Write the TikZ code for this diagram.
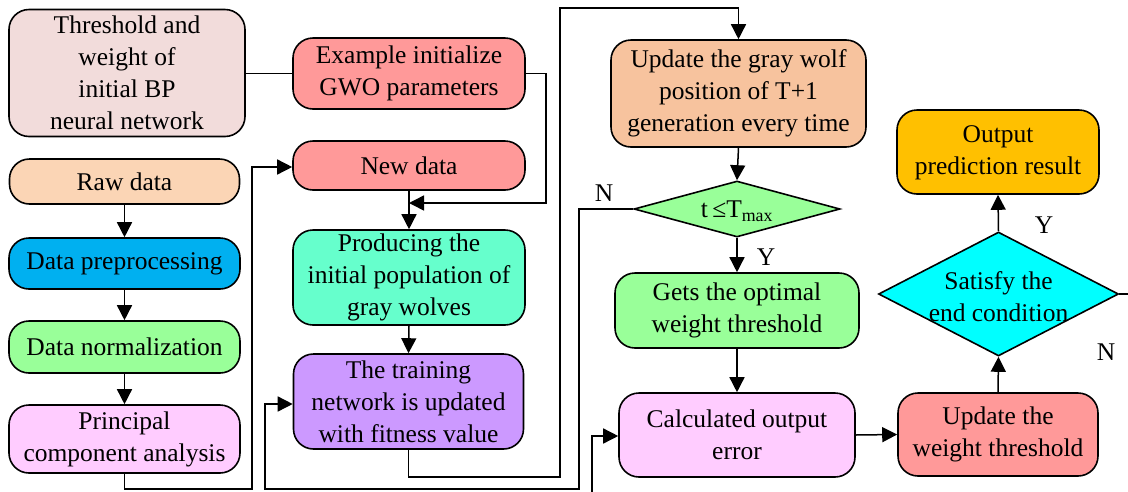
\documentclass[tikz,border=0pt]{standalone}
\usepackage{fontspec}
\setmainfont{Liberation Serif}
\usetikzlibrary{arrows.meta,shapes.geometric}
\definecolor{cThr}{HTML}{F2DCDB}
\definecolor{cRed}{HTML}{FF9999}
\definecolor{cRaw}{HTML}{FBD5B5}
\definecolor{cPre}{HTML}{00B0F0}
\definecolor{cGrn}{HTML}{99FF99}
\definecolor{cPink}{HTML}{FFCCFF}
\definecolor{cProd}{HTML}{66FFCC}
\definecolor{cTrain}{HTML}{CC99FF}
\definecolor{cUpd}{HTML}{F7C39E}
\definecolor{cCyan}{HTML}{00FFFF}
\definecolor{cOut}{HTML}{FFC000}
\begin{document}
\begin{tikzpicture}[x=1pt,y=-1pt,
  txt/.style={font=\fontsize{25.5}{32}\selectfont},
  box/.style={txt,draw,line width=1.6pt,rounded corners=20pt,inner sep=0pt,align=center},
  dia/.style={draw,line width=1.6pt,diamond,inner sep=0pt},
  ln/.style={line width=1.5pt},
  arr/.style={ln,-{Triangle[length=15pt,width=15pt]}}]
\useasboundingbox (0,0) rectangle (1128,491);
\clip (0,0) rectangle (1128,491);
% left column
\node[box,fill=cThr,minimum width=236pt,minimum height=127pt] (thr) at (127,73) {Threshold and\\weight of\\initial BP\\neural network};
\node[box,fill=cRaw,minimum width=230pt,minimum height=45pt] (raw) at (124.5,181.5) {Raw data};
\node[box,fill=cPre,minimum width=231pt,minimum height=51pt] (pre) at (124.5,263.5) {Data preprocessing};
\node[box,fill=cGrn,minimum width=231pt,minimum height=52pt] (norm) at (124.5,347) {Data normalization};
\node[box,fill=cPink,minimum width=231pt,minimum height=68pt] (pca) at (124.5,439) {Principal\\component analysis};
% middle column
\node[box,fill=cRed,minimum width=232pt,minimum height=71pt] (ex) at (409,73.5) {Example initialize\\GWO parameters};
\node[box,fill=cRed,minimum width=232pt,minimum height=49pt] (new) at (409,165.5) {New data};
\node[box,fill=cProd,minimum width=232pt,minimum height=95pt] (prod) at (409,277.5) {Producing the\\initial population of\\gray wolves};
\node[box,fill=cTrain,minimum width=230pt,minimum height=95pt] (train) at (408.5,401.5) {The training\\network is updated\\with fitness value};
% right-middle column
\node[box,fill=cUpd,minimum width=255pt,minimum height=107pt] (upd) at (738.5,93.5) {Update the gray wolf\\position of T+1\\generation every time};
\node[dia,fill=cGrn,minimum width=206pt,minimum height=56pt] (d1) at (737,209) {};
\node[txt] (d1t) at (737,211) {t\,≤T\textsubscript{max}};
\node[box,fill=cGrn,minimum width=244pt,minimum height=75pt] (opt) at (737,310.5) {Gets the optimal\\weight threshold};
\node[box,fill=cPink,minimum width=236pt,minimum height=84pt] (calc) at (737,435) {Calculated output\\error};
% right column
\node[box,fill=cOut,minimum width=202pt,minimum height=84pt] (out) at (998,152) {\raisebox{-3pt}{\begin{tabular}{@{}c@{}}Output\\prediction result\end{tabular}}};
\node[dia,fill=cCyan,minimum width=240pt,minimum height=124pt] (d2) at (998.5,294) {};
\node[txt,align=center] (d2t) at (998.5,297) {Satisfy the\\end condition};
\node[box,fill=cRed,minimum width=200pt,minimum height=83pt] (uwt) at (998,434.5) {Update the\\weight threshold};
% labels
\node[txt] (ln1) at (604,193) {N};
\node[txt] (ly1) at (766,257) {Y};
\node[txt] (ly2) at (1044,225) {Y};
\node[txt] (ln2) at (1106,352) {N};
% connectors
\draw[ln] (thr.east |- ex.west) -- (ex.west);
\coordinate (j) at (409,203);
\draw[arr] (ex.east) -- (546,73.5) -- (546,203) -- (j);
\draw[arr] (new.south) -- (prod.north);
\draw[arr] (raw.south) -- (pre.north);
\draw[arr] (pre.south) -- (norm.north);
\draw[arr] (norm.south) -- (pca.north);
\draw[arr] (pca.south) -- (124.5,489) -- (252,489) -- (252,167) -- (new.west |- 0,167);
\draw[arr] (prod.south) -- (train.north);
\draw[arr] (train.south) -- (408.5,477) -- (560,477) -- (560,8) -- (738.5,8) -- (upd.north);
\draw[arr] (upd.south) -- (d1.north);
\draw[arr] (d1.west) -- (579,209) -- (579,489) -- (265,489) -- (265,404) -- (train.west |- 0,404);
\draw[arr] (d1.south) -- (opt.north);
\draw[arr] (opt.south) -- (calc.north);
\draw[arr] (calc.east) -- (uwt.west);
\draw[arr] (uwt.north) -- (d2.south);
\draw[arr] (d2.north) -- (out.south);
\coordinate (off) at (1140,500);
\draw[arr] (d2.east) -- (off |- d2.east) -- (off) -- (592,500) -- (592,436) -- (calc.west |- 0,436);
\end{tikzpicture}
\end{document}
